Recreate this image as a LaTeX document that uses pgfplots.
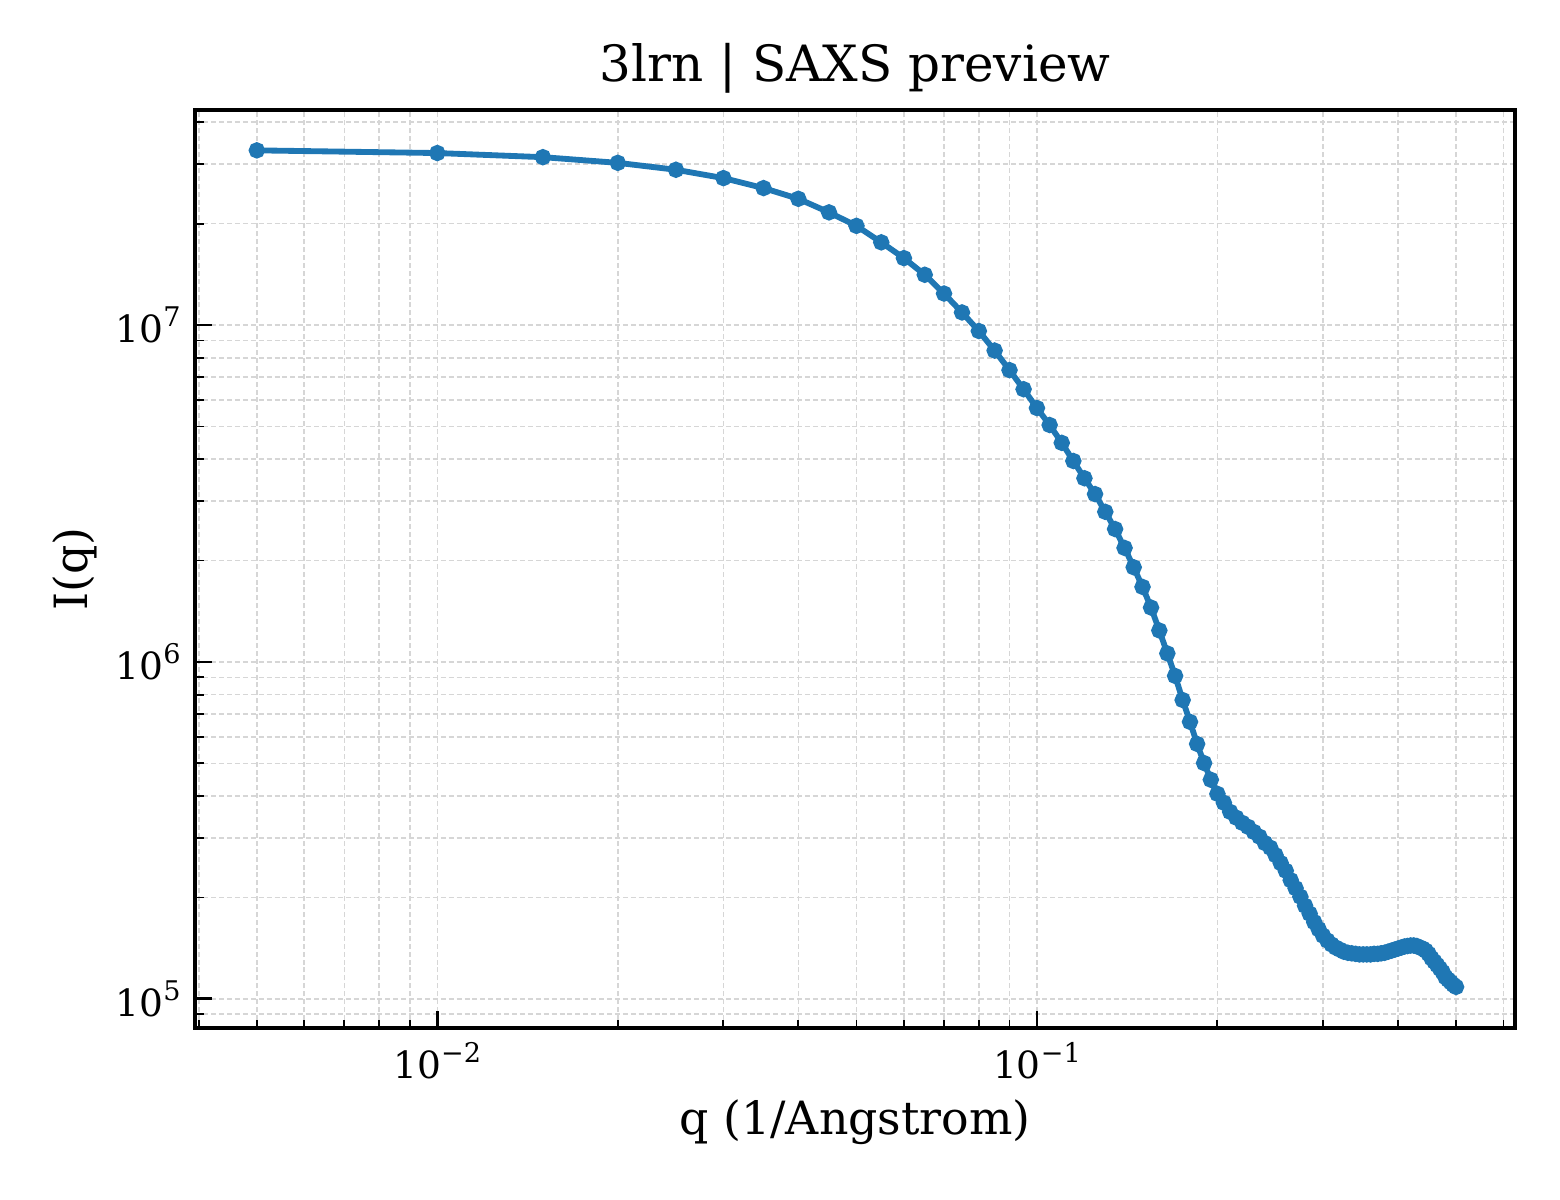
\documentclass[border=0pt]{standalone}
\usepackage{fontspec}
\setmainfont{DejaVu Serif}
\usepackage{pgfplots}
\usepackage{pgfplotstable}
\pgfplotsset{compat=1.18}
\definecolor{tabblue}{HTML}{1F77B4}
\definecolor{gridgray}{gray}{0.84}
\newcommand{\tenpow}[1]{10\raisebox{0.42em}{\fontsize{6.5}{7}\selectfont #1}}

\pgfplotstableread{
q I
0.005 3.30e7
0.010 3.24e7
0.015 3.15e7
0.020 3.03e7
0.025 2.89e7
0.030 2.73e7
0.035 2.55e7
0.040 2.37e7
0.045 2.16e7
0.050 1.97e7
0.055 1.76e7
0.060 1.58e7
0.065 1.41e7
0.070 1.24e7
0.075 1.09e7
0.080 9.6e6
0.085 8.4e6
0.090 7.35e6
0.095 6.45e6
0.100 5.67e6
0.105 5.05e6
0.110 4.47e6
0.115 3.95e6
0.120 3.51e6
0.125 3.15e6
0.130 2.79e6
0.135 2.48e6
0.140 2.18e6
0.145 1.91e6
0.150 1.67e6
0.155 1.45e6
0.160 1.24e6
0.165 1.06e6
0.170 9.09e5
0.175 7.71e5
0.180 6.64e5
0.185 5.71e5
0.190 5.01e5
0.195 4.47e5
0.200 4.06e5
0.205 3.82e5
0.210 3.59e5
0.215 3.45e5
0.220 3.33e5
0.225 3.24e5
0.230 3.13e5
0.235 3.03e5
0.240 2.90e5
0.245 2.81e5
0.250 2.67e5
0.255 2.53e5
0.260 2.40e5
0.265 2.25e5
0.270 2.13e5
0.275 2.01e5
0.280 1.89e5
0.285 1.79e5
0.290 1.69e5
0.295 1.61e5
0.300 1.54e5
0.305 1.49e5
0.310 1.45e5
0.315 1.42e5
0.320 1.40e5
0.325 1.38e5
0.330 1.37e5
0.335 1.365e5
0.340 1.36e5
0.345 1.355e5
0.350 1.355e5
0.355 1.355e5
0.360 1.355e5
0.365 1.36e5
0.370 1.36e5
0.375 1.365e5
0.380 1.37e5
0.385 1.38e5
0.390 1.39e5
0.395 1.40e5
0.400 1.41e5
0.405 1.42e5
0.410 1.43e5
0.415 1.435e5
0.420 1.44e5
0.425 1.44e5
0.430 1.435e5
0.435 1.42e5
0.440 1.41e5
0.445 1.39e5
0.450 1.36e5
0.455 1.32e5
0.460 1.29e5
0.465 1.26e5
0.470 1.23e5
0.475 1.20e5
0.480 1.16e5
0.485 1.14e5
0.490 1.12e5
0.495 1.10e5
0.500 1.085e5
}\saxs

\begin{document}
\begin{tikzpicture}
\path[use as bounding box] (-46.9pt,-41.3pt) rectangle (327.5pt,246.7pt);
\begin{axis}[
	scale only axis,
	width=316.7pt,
	height=220.3pt,
	xmode=log,
	ymode=log,
	xmin=0.00395, xmax=0.627,
	ymin=8.2e4, ymax=4.35e7,
	tick pos=left,
	tick align=inside,
	axis line style={line width=1pt},
	major tick length=4pt,
	minor tick length=2pt,
	major tick style={black, line width=0.65pt},
	minor tick style={black, line width=0.45pt},
	grid=both,
	major grid style={dash pattern=on 1.2pt off 0.7pt, line width=0.4pt, gridgray},
	minor grid style={dash pattern=on 1.2pt off 0.7pt, line width=0.4pt, gridgray},
	xtick={0.01,0.1},
	xticklabels={\tenpow{−2},\tenpow{−1}},
	minor xtick={0.004,0.005,0.006,0.007,0.008,0.009,0.02,0.03,0.04,0.05,0.06,0.07,0.08,0.09,0.2,0.3,0.4,0.5,0.6},
	ytick={1e5,1e6,1e7},
	yticklabels={\tenpow{5},\tenpow{6},\tenpow{7}},
	minor ytick={9e4,2e5,3e5,4e5,5e5,6e5,7e5,8e5,9e5,2e6,3e6,4e6,5e6,6e6,7e6,8e6,9e6,2e7,3e7,4e7},
	tick label style={font=\fontsize{9}{10}\selectfont},
	title={3lrn | SAXS preview},
	title style={font=\fontsize{12}{14}\selectfont, at={(axis description cs:0.5,1.0186)}, anchor=center},
	xlabel={q (1/Angstrom)},
	ylabel={I(q)},
	label style={font=\fontsize{11}{13}\selectfont},
	xlabel style={at={(axis description cs:0.5,-0.1026)}, anchor=center},
	ylabel style={at={(axis description cs:-0.0913,0.5)}, anchor=center},
]
\addplot[color=tabblue, line width=1.4pt, mark=*, mark size=1.25pt, mark options={solid, draw=none, fill=tabblue}] table[x=q, y=I] {\saxs};
\end{axis}
\end{tikzpicture}
\end{document}
